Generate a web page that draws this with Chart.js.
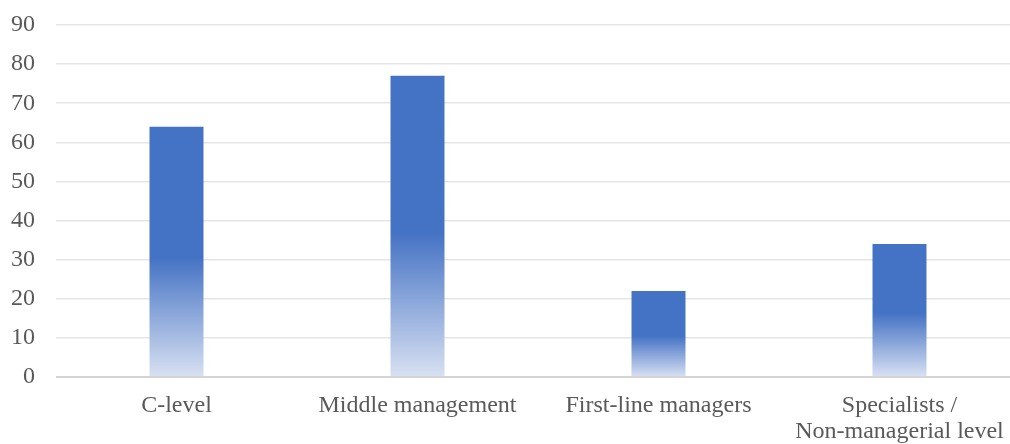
<!DOCTYPE html>
<html>
<head>
<meta charset="utf-8">
<script src="https://cdn.jsdelivr.net/npm/chart.js@4/dist/chart.umd.min.js"></script>
<style>
html,body{margin:0;padding:0;background:#fff;overflow:hidden;width:1010px;height:444px;}
#wrap{width:1025px;height:444px;position:relative;}
</style>
</head>
<body>
<div id="wrap"><canvas id="c"></canvas></div>
<script>
const categories = ["C-level", "Middle management", "First-line managers", ["Specialists /", "Non-managerial level"]];
const values = [64, 77, 22, 34];
const yTicks = [0, 10, 20, 30, 40, 50, 60, 70, 80, 90];

const ctx = document.getElementById('c').getContext('2d');
function barGradient(context) {
  const chart = context.chart;
  const {chartArea} = chart;
  if (!chartArea || context.type !== 'data') return '#4472C4';
  const y = chart.scales.y;
  const top = y.getPixelForValue(context.parsed.y);
  const base = y.getPixelForValue(0);
  const g = chart.ctx.createLinearGradient(0, top, 0, base);
  g.addColorStop(0, '#4472C4');
  g.addColorStop(0.52, '#4472C4');
  g.addColorStop(1, '#D8E1F2');
  return g;
}
new Chart(ctx, {
  type: 'bar',
  data: {
    labels: categories,
    datasets: [{
      data: values,
      backgroundColor: barGradient,
      borderWidth: 0,
      barPercentage: 0.224,
      categoryPercentage: 1.0
    }]
  },
  options: {
    responsive: true,
    maintainAspectRatio: false,
    animation: false,
    layout: {padding: {top: 25, right: 5, left: 0, bottom: 0}},
    plugins: {legend: {display: false}, tooltip: {enabled: false}},
    scales: {
      x: {
        grid: {display: false, drawTicks: false},
        border: {display: false},
        afterFit: (axis) => { axis.paddingLeft = 0; axis.paddingRight = 0; axis.height = 67; },
        ticks: {
          color: '#595959',
          font: {family: 'Liberation Serif', size: 24, lineHeight: 1.08},
          padding: 16,
          maxRotation: 0,
          autoSkip: false
        }
      },
      y: {
        min: 0, max: 90,
        afterBuildTicks: (axis) => { axis.ticks = yTicks.map(v => ({value: v})); },
        afterFit: (axis) => { axis.paddingTop = 0; axis.paddingBottom = 0; axis.width = 56; },
        grid: {
          color: (c) => c.tick && c.tick.value === 0 ? '#d4d4d4' : '#e5e5e5',
          lineWidth: (c) => c.tick && c.tick.value === 0 ? 2 : 1.5,
          drawTicks: false
        },
        border: {display: false},
        ticks: {
          color: '#595959',
          font: {family: 'Liberation Serif', size: 24, lineHeight: 1.2},
          padding: 21
        }
      }
    }
  }
});
</script>
</body>
</html>
